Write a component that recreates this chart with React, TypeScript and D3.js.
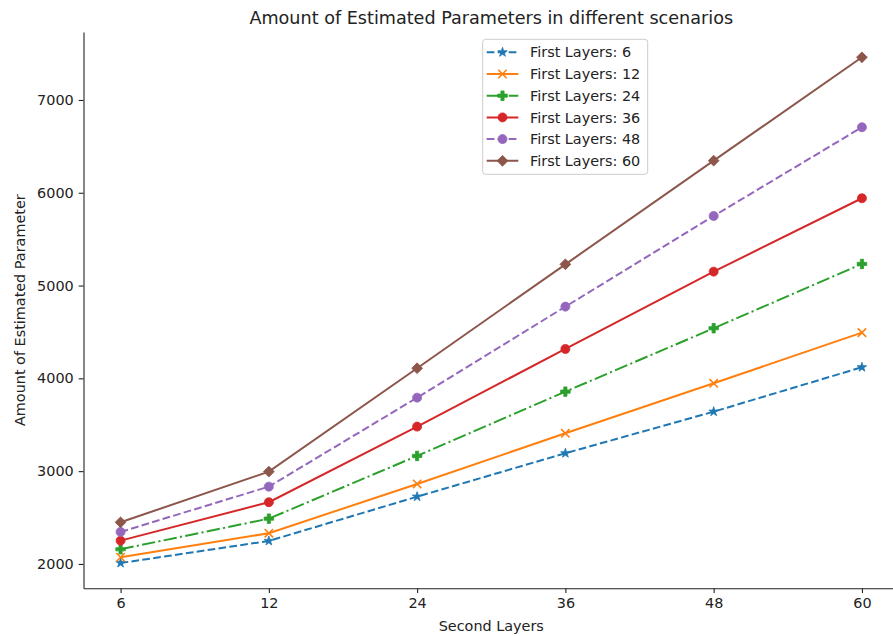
import React, { useRef, useEffect } from "react";
import * as d3 from "d3";

// x categories (evenly spaced in the original plot)
const secondLayers = [6, 12, 24, 36, 48, 60];
const yTickValues = [2000, 3000, 4000, 5000, 6000, 7000];

// series values
const first6 = [2010, 2248, 2725, 3193, 3641, 4120];
const first12 = [2072, 2331, 2862, 3408, 3947, 4493];
const first24 = [2158, 2488, 3164, 3857, 4540, 5233];
const first36 = [2251, 2665, 3480, 4317, 5150, 5941];
const first48 = [2345, 2833, 3792, 4773, 5750, 6706];
const first60 = [2449, 2995, 4109, 5229, 6346, 7460];

const seriesNames = ["First Layers: 6", "First Layers: 12", "First Layers: 24", "First Layers: 36", "First Layers: 48", "First Layers: 60"];

const W = 893;
const H = 636;
const margin = { left: 83.5, right: 899, top: 32, bottom: 588.3 };
const FONT = "DejaVu Sans, sans-serif";
const FS = 14.4;

const styles = [
  { color: "#1f77b4", dash: "7.7,3.3", marker: "star" },
  { color: "#ff7f0e", dash: null, marker: "x" },
  { color: "#2ca02c", dash: "13.3,3.3,2.1,3.3", marker: "plus" },
  { color: "#d62728", dash: null, marker: "circle" },
  { color: "#9467bd", dash: "7.7,3.3", marker: "circle" },
  { color: "#8c564b", dash: null, marker: "diamond" },
];

const markerPath = (kind: string) => {
  if (kind === "star") return d3.symbol(d3.symbolStar, 28)();
  if (kind === "x") return d3.symbol(d3.symbolX, 48)();
  if (kind === "plus") return d3.symbol(d3.symbolCross, 50)();
  if (kind === "circle") return d3.symbol(d3.symbolCircle, 64)();
  return d3.symbol(d3.symbolSquare, 58)();
};

const Marker = ({ kind, color, x, y }: any) => {
  const d = markerPath(kind) || "";
  if (kind === "x")
    return <path d={d} transform={`translate(${x},${y})`} fill="none" stroke={color} strokeWidth={1.6} />;
  const rot = kind === "diamond" ? " rotate(45)" : "";
  return <path d={d} transform={`translate(${x},${y})${rot}`} fill={color} stroke={color} strokeWidth={0.8} />;
};

export default function App() {
  const xAxisRef = useRef<SVGGElement>(null);
  const yAxisRef = useRef<SVGGElement>(null);

  const allSeries = [first6, first12, first24, first36, first48, first60];
  const lo = d3.min(allSeries.flat()) as number;
  const hi = d3.max(allSeries.flat()) as number;
  const pad = (hi - lo) * 0.05;

  const x = d3.scaleLinear().domain([-0.25, secondLayers.length - 0.75]).range([margin.left, margin.right]);
  const y = d3.scaleLinear().domain([lo - pad, hi + pad]).range([margin.bottom, margin.top]);

  const lineGen = d3
    .line<number>()
    .x((_, i) => x(i))
    .y((d) => y(d));

  useEffect(() => {
    const xAxis = d3
      .axisBottom(x)
      .tickValues(secondLayers.map((_, i) => i))
      .tickFormat((i: any) => String(secondLayers[i]))
      .tickSize(4.8)
      .tickSizeOuter(0)
      .tickPadding(5);
    const gx = d3.select(xAxisRef.current).call(xAxis as any);
    gx.select(".domain").attr("stroke", "#222").attr("stroke-width", 1.1);
    gx.selectAll(".tick line").attr("stroke", "#222").attr("stroke-width", 1.1);
    gx.selectAll(".tick text").attr("fill", "#222").style("font-size", FS + "px").style("font-family", FONT);

    const yAxis = d3.axisLeft(y).tickValues(yTickValues).tickFormat(d3.format("d")).tickSize(4.8).tickSizeOuter(0).tickPadding(5);
    const gy = d3.select(yAxisRef.current).call(yAxis as any);
    gy.select(".domain").attr("stroke", "#222").attr("stroke-width", 1.1);
    gy.selectAll(".tick line").attr("stroke", "#222").attr("stroke-width", 1.1);
    gy.selectAll(".tick text").attr("fill", "#222").style("font-size", FS + "px").style("font-family", FONT);
  }, []);

  const legendX = 482.7;
  const legendY = 39.3;
  const rowH = 21.7;

  return (
    <svg width={W} height={H} style={{ position: "absolute", left: 0, top: 0, background: "#fff" }} fontFamily={FONT}>
      <rect width={W} height={H} fill="#fff" />
      <text x={(margin.left + margin.right) / 2} y={24} textAnchor="middle" fontSize={17.6} fill="#222">
        Amount of Estimated Parameters in different scenarios
      </text>

      {allSeries.map((vals, si) => (
        <g key={si}>
          <path d={lineGen(vals) || ""} fill="none" stroke={styles[si].color} strokeWidth={2}
            strokeDasharray={styles[si].dash || undefined} />
          {vals.map((v, i) => (
            <Marker key={i} kind={styles[si].marker} color={styles[si].color} x={x(i)} y={y(v)} />
          ))}
        </g>
      ))}

      <g ref={xAxisRef} transform={`translate(0,${margin.bottom})`} />
      <g ref={yAxisRef} transform={`translate(${margin.left},0)`} />

      <text x={(margin.left + margin.right) / 2} y={631} textAnchor="middle" fontSize={FS} fill="#222">
        Second Layers
      </text>
      <text transform={`translate(25,${(margin.top + margin.bottom) / 2}) rotate(-90)`} textAnchor="middle" fontSize={FS} fill="#222">
        Amount of Estimated Parameter
      </text>

      <g transform={`translate(${legendX},${legendY})`}>
        <rect width={165} height={135} rx={3} fill="#fff" fillOpacity={0.8} stroke="#ccc" strokeWidth={1} />
        {seriesNames.map((name, i) => {
          const cy = 13 + i * rowH;
          return (
            <g key={name}>
              <line x1={4} x2={35.6} y1={cy} y2={cy} stroke={styles[i].color} strokeWidth={2}
                strokeDasharray={styles[i].dash || undefined} />
              <Marker kind={styles[i].marker} color={styles[i].color} x={19.8} y={cy} />
              <text x={47.3} y={cy} dy="0.36em" fontSize={FS} fill="#222">{name}</text>
            </g>
          );
        })}
      </g>
    </svg>
  );
}
